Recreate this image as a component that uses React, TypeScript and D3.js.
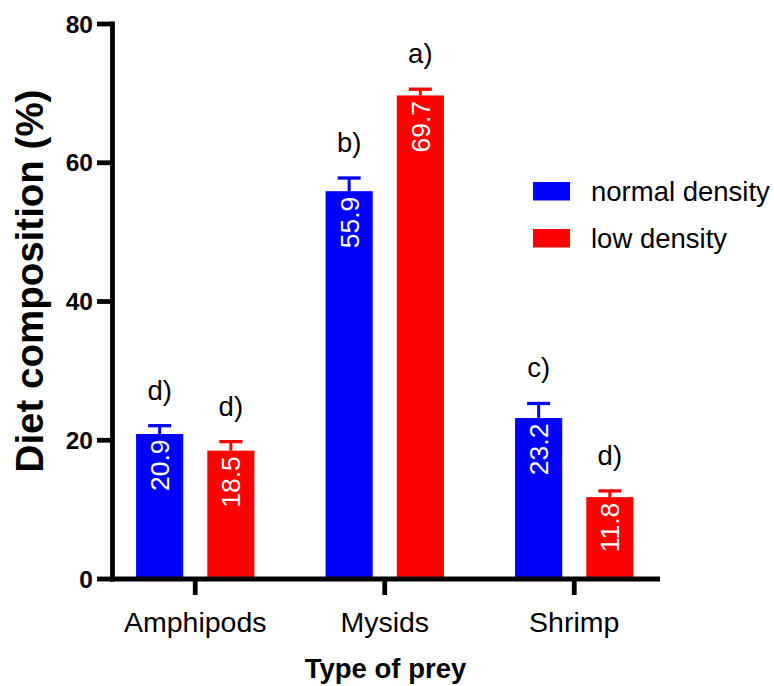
import React from "react";
import * as d3 from "d3";

const categories = ["Amphipods", "Mysids", "Shrimp"];
const seriesNames = ["normal density", "low density"];
const normalValues = [20.9, 55.9, 23.2];
const lowValues = [18.5, 69.7, 11.8];
const normalErrors = [1.2, 1.9, 2.1];
const lowErrors = [1.3, 0.9, 0.9];
const normalLetters = ["d)", "b)", "c)"];
const lowLetters = ["d)", "a)", "d)"];
const yTicks = [0, 20, 40, 60, 80];
const seriesColors = ["#0000ff", "#ff0000"];

const W = 774;
const H = 686;
const FONT = "'Liberation Sans', Arial, Helvetica, sans-serif";

export default function App() {
  const y = d3.scaleLinear().domain([0, 80]).range([579, 24]);
  const x0 = d3.scaleBand<string>().domain(categories).range([100.5, 669]).padding(0);
  const x1 = d3
    .scaleBand<string>()
    .domain(seriesNames)
    .range([0, x0.bandwidth()])
    .paddingInner(0.338)
    .paddingOuter(0.5);

  const rows = categories.map((c, i) => ({
    cat: c,
    items: [
      { s: seriesNames[0], v: normalValues[i], e: normalErrors[i], l: normalLetters[i], color: seriesColors[0] },
      { s: seriesNames[1], v: lowValues[i], e: lowErrors[i], l: lowLetters[i], color: seriesColors[1] },
    ],
  }));

  const axisX0 = 112.5;
  const axisRight = 660;
  const yZero = y(0);
  const sw = 4.8;

  return (
    <svg
      width={W}
      height={H}
      style={{ position: "absolute", left: 0, top: 0, background: "#fff" }}
      fontFamily={FONT}
    >
      {/* bars, error bars, value labels, significance letters */}
      {rows.map((r) => (
        <g key={r.cat} transform={`translate(${x0(r.cat)},0)`}>
          {r.items.map((it) => {
            const bx = x1(it.s)!;
            const bw = x1.bandwidth();
            const cx = bx + bw / 2;
            const top = y(it.v);
            const errTop = y(it.v + it.e);
            return (
              <g key={it.s}>
                <rect x={bx} y={top} width={bw} height={yZero - top} fill={it.color} />
                <line x1={cx} x2={cx} y1={top} y2={errTop} stroke={it.color} strokeWidth={3} />
                <line x1={cx - 11.5} x2={cx + 11.5} y1={errTop} y2={errTop} stroke={it.color} strokeWidth={3.3} />
                <text
                  transform={`translate(${cx + 9.5},${top + 5.5}) rotate(-90)`}
                  textAnchor="end"
                  fill="#fff"
                  fontSize={26.5}
                >
                  {it.v.toFixed(1)}
                </text>
                <text x={cx} y={errTop - 26} textAnchor="middle" fontSize={27.5} fill="#000">
                  {it.l}
                </text>
              </g>
            );
          })}
        </g>
      ))}

      {/* y axis */}
      <line x1={axisX0} x2={axisX0} y1={y(80) - sw / 2} y2={yZero + sw / 2} stroke="#000" strokeWidth={sw} />
      {yTicks.map((t) => (
        <g key={t}>
          <line x1={97} x2={axisX0} y1={y(t)} y2={y(t)} stroke="#000" strokeWidth={sw} />
          <text x={93} y={y(t) + 8.5} textAnchor="end" fontSize={24.5} fontWeight="bold" fill="#000">
            {t}
          </text>
        </g>
      ))}

      {/* x axis */}
      <line x1={axisX0 - sw / 2} x2={axisRight} y1={yZero} y2={yZero} stroke="#000" strokeWidth={sw} />
      {categories.map((c) => {
        const cx = x0(c)! + x0.bandwidth() / 2;
        return (
          <g key={c}>
            <line x1={cx} x2={cx} y1={yZero} y2={595} stroke="#000" strokeWidth={sw} />
            <text x={cx} y={632} textAnchor="middle" fontSize={28.5} fill="#000">
              {c}
            </text>
          </g>
        );
      })}

      {/* axis titles */}
      <text x={385.5} y={678} textAnchor="middle" fontSize={27.5} fontWeight="bold" fill="#000">
        Type of prey
      </text>
      <text
        transform={`translate(43,281) rotate(-90)`}
        textAnchor="middle"
        fontSize={38.5}
        fontWeight="bold"
        fill="#000"
      >
        Diet composition (%)
      </text>

      {/* legend */}
      {seriesNames.map((s, i) => (
        <g key={s} transform={`translate(533,${182 + i * 47})`}>
          <rect x={0} y={0} width={37} height={18.5} fill={seriesColors[i]} />
          <text x={58} y={18.5} fontSize={27.5} fill="#000">
            {s}
          </text>
        </g>
      ))}
    </svg>
  );
}
